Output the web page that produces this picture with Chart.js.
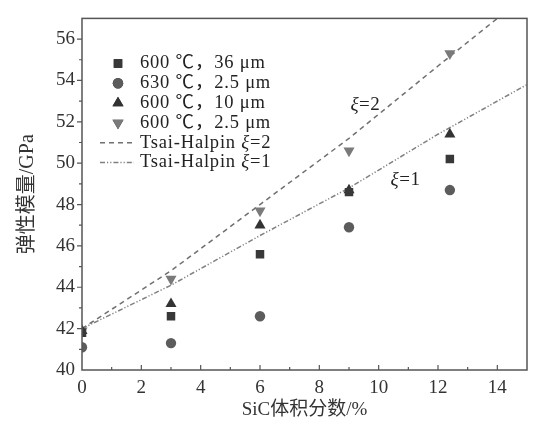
<!DOCTYPE html>
<html lang="zh">
<head>
    <meta charset="UTF-8">
    <title>弹性模量 - SiC体积分数</title>
    <script src="https://cdn.jsdelivr.net/npm/chart.js"></script>
    <style>
        body { margin: 0; background: #fff; }
        #wrap { width: 552px; height: 429px; }
    </style>
</head>
<body>
    <div id="wrap"><canvas id="modulusChart"></canvas></div>

    <script>
        // measured points (SiC vol.% vs elastic modulus, GPa)
        const sicFraction = [0, 3, 6, 9, 12.4];
        const e600_36um = [41.8, 42.6, 45.6, 48.6, 50.2];
        const e630_25um = [41.1, 41.3, 42.6, 46.9, 48.7];
        const e600_10um = [41.9, 43.2, 47.0, 48.7, 51.4];
        const e600_25um = [41.9, 44.4, 47.7, 50.6, 55.3];

        // Tsai-Halpin curves
        const xi2X = [0, 3, 6, 9, 12, 14];
        const xi2E = [42.0, 44.8, 48.0, 51.2, 54.7, 57.0];
        const xi1X = [0, 3, 6, 9, 12, 15];
        const xi1E = [42.0, 44.1, 46.5, 48.8, 51.4, 53.8];

        const seriesLabels = ['600 ℃，36 μm', '630 ℃，2.5 μm', '600 ℃，10 μm', '600 ℃，2.5 μm',
                              'Tsai-Halpin ξ=2', 'Tsai-Halpin ξ=1'];
        const xTicks = [0, 2, 4, 6, 8, 10, 12, 14];
        const yTicks = [40, 42, 44, 46, 48, 50, 52, 54, 56];

        const serif = "'Liberation Serif', 'Times New Roman', 'Noto Sans CJK SC', serif";
        const toXY = (xs, ys) => xs.map((x, i) => ({ x: x, y: ys[i] }));

        const markerSet = (label, ys, style, color, radius, rotation) => ({
            label: label,
            data: toXY(sicFraction, ys),
            showLine: false,
            pointStyle: style,
            pointRotation: rotation || 0,
            pointRadius: radius,
            pointBackgroundColor: color,
            pointBorderColor: color,
            pointBorderWidth: 0,
            order: 1
        });

        const lineSet = (label, xs, ys, color, dash) => ({
            label: label,
            data: toXY(xs, ys),
            showLine: true,
            borderColor: color,
            borderWidth: 1.5,
            borderDash: dash,
            pointRadius: 0,
            fill: false,
            order: 2
        });

        const datasets = [
            markerSet(seriesLabels[0], e600_36um, 'rect', '#383838', 6),
            markerSet(seriesLabels[1], e630_25um, 'circle', '#5c5c5c', 5.2),
            markerSet(seriesLabels[2], e600_10um, 'triangle', '#333333', 6.4),
            markerSet(seriesLabels[3], e600_25um, 'triangle', '#7a7a7a', 6.4, 180),
            lineSet(seriesLabels[4], xi2X, xi2E, '#707070', [5, 4]),
            lineSet(seriesLabels[5], xi1X, xi1E, '#808080', [5, 2, 1.2, 2, 1.2, 2])
        ];

        // draw "ξ=n" with italic ξ
        function xiText(ctx, x, y, rest, size) {
            ctx.font = 'italic ' + size + 'px ' + serif;
            ctx.fillText('ξ', x, y);
            const w = ctx.measureText('ξ').width;
            ctx.font = size + 'px ' + serif;
            ctx.fillText(rest, x + w, y);
        }

        const decorPlugin = {
            id: 'decor',
            afterDatasetsDraw(chart) {
                const ctx = chart.ctx;
                const area = chart.chartArea;
                const xs = chart.scales.x, ys = chart.scales.y;
                ctx.save();

                // frame
                ctx.strokeStyle = '#555';
                ctx.lineWidth = 1.5;
                ctx.strokeRect(area.left, area.top, area.right - area.left, area.bottom - area.top);

                // x ticks point inward, y ticks outward
                ctx.lineWidth = 1.2;
                ctx.beginPath();
                for (let v = 1; v < 15; v++) {
                    const px = xs.getPixelForValue(v);
                    const len = v % 2 === 0 ? 5 : 3;
                    ctx.moveTo(px, area.bottom);
                    ctx.lineTo(px, area.bottom - len);
                }
                for (let v = 41; v <= 56; v++) {
                    const py = ys.getPixelForValue(v);
                    const len = v % 2 === 0 ? 5 : 3;
                    ctx.moveTo(area.left, py);
                    ctx.lineTo(area.left - len, py);
                }
                ctx.stroke();

                // legend in the upper-left corner
                const lx = 118, textX = 140, rowY = 63.5, rowH = 19.8;
                ctx.textBaseline = 'middle';
                ctx.letterSpacing = '0.8px';
                seriesLabels.forEach((lab, i) => {
                    const y = rowY + i * rowH;
                    const ds = chart.data.datasets[i];
                    if (i < 4) {
                        Chart.helpers.drawPoint(ctx, {
                            pointStyle: ds.pointStyle,
                            rotation: ds.pointRotation,
                            radius: ds.pointRadius,
                            borderWidth: 0
                        }, lx, y);
                        ctx.fillStyle = ds.pointBackgroundColor;
                        ctx.fill();
                    } else {
                        ctx.strokeStyle = ds.borderColor;
                        ctx.lineWidth = 1.5;
                        ctx.setLineDash(ds.borderDash);
                        ctx.beginPath();
                        ctx.moveTo(100, y);
                        ctx.lineTo(134, y);
                        ctx.stroke();
                        ctx.setLineDash([]);
                    }
                    ctx.fillStyle = '#222';
                    if (i < 4) {
                        ctx.font = '18.5px ' + serif;
                        ctx.fillText(lab, textX, y);
                    } else {
                        const head = 'Tsai-Halpin ';
                        ctx.font = '18.5px ' + serif;
                        ctx.fillText(head, textX, y);
                        const w = ctx.measureText(head).width;
                        xiText(ctx, textX + w, y, lab.slice(head.length + 1), 18.5);
                    }
                });

                // curve annotations
                ctx.letterSpacing = '0.5px';
                ctx.textAlign = 'left';
                xiText(ctx, xs.getPixelForValue(9.05), ys.getPixelForValue(52.8), '=2', 19);
                xiText(ctx, xs.getPixelForValue(10.4), ys.getPixelForValue(49.2), '=1', 19);

                ctx.restore();
            }
        };

        const ctx = document.getElementById('modulusChart').getContext('2d');
        const chart = new Chart(ctx, {
            type: 'scatter',
            data: { datasets: datasets },
            options: {
                responsive: true,
                maintainAspectRatio: false,
                animation: false,
                layout: { padding: { top: 15, right: 25, left: 0, bottom: 0 } },
                plugins: {
                    legend: { display: false },
                    tooltip: { enabled: false }
                },
                scales: {
                    x: {
                        type: 'linear',
                        min: 0,
                        max: 15,
                        afterFit: s => { s.height = 59; },
                        afterBuildTicks: s => { s.ticks = xTicks.map(v => ({ value: v })); },
                        grid: { display: false, drawTicks: false },
                        border: { display: false },
                        ticks: {
                            padding: 7,
                            color: '#333',
                            font: { family: serif, size: 19 }
                        },
                        title: {
                            display: true,
                            text: 'SiC体积分数/%',
                            color: '#333',
                            padding: { top: 0, bottom: 8 },
                            font: { family: serif, size: 19 }
                        }
                    },
                    y: {
                        type: 'linear',
                        min: 40,
                        max: 57,
                        afterFit: s => { s.width = 82; },
                        afterBuildTicks: s => { s.ticks = yTicks.map(v => ({ value: v })); },
                        grid: { display: false, drawTicks: false },
                        border: { display: false },
                        ticks: {
                            padding: 7,
                            color: '#333',
                            font: { family: serif, size: 19 }
                        },
                        title: {
                            display: true,
                            text: '弹性模量/GPa',
                            color: '#333',
                            padding: { top: 16, bottom: 0 },
                            font: { family: serif, size: 20 }
                        }
                    }
                }
            },
            plugins: [decorPlugin]
        });
    </script>
</body>
</html>
